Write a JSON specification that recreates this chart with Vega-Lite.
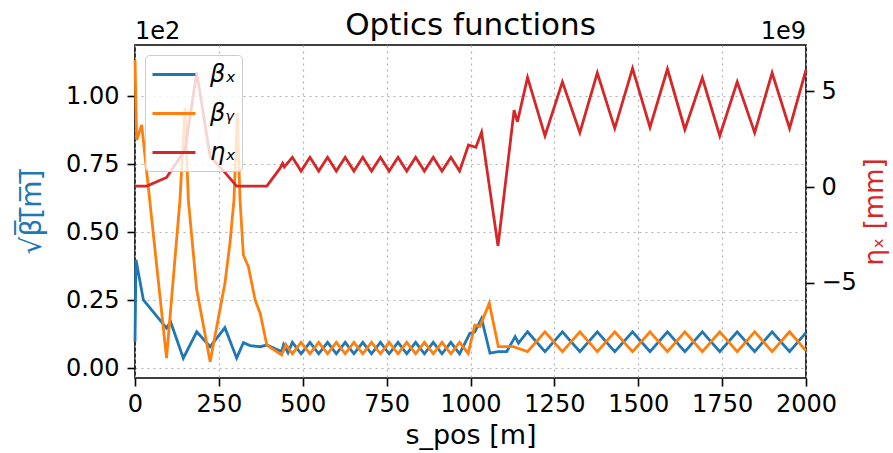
{
  "$schema": "https://vega.github.io/schema/vega-lite/v6.json",
  "width": 671,
  "height": 333,
  "autosize": {"type": "none"},
  "padding": {"left": 135, "top": 45, "right": 87, "bottom": 75},
  "background": "white",
  "title": {"text": "Optics functions", "fontSize": 31, "font": "DejaVu Sans", "fontWeight": "normal", "color": "#000", "baseline": "alphabetic", "offset": 0, "dy": 46},
  "config": {
    "font": "DejaVu Sans",
    "view": {"stroke": "#000", "strokeWidth": 1.6},
    "axis": {
      "labelFont": "DejaVu Sans", "labelFontSize": 24, "labelColor": "#000",
      "titleFont": "DejaVu Sans", "titleFontSize": 27, "titleFontWeight": "normal", "titleColor": "#000",
      "tickColor": "#000", "tickSize": 8, "tickWidth": 1.6, "domain": false,
      "gridColor": "#b0b0b0", "gridDash": [2, 4], "gridWidth": 1.2, "gridOpacity": 1,
      "labelFlush": false, "labelOverlap": false
    },
    "legend": {
      "title": null, "orient": "none", "legendX": 10, "legendY": 10,
      "symbolType": "M-1,0L2.58,0", "symbolSize": 576, "symbolStrokeWidth": 2.8,
      "labelFont": "DejaVu Sans", "labelFontSize": 24, "labelFontStyle": "italic", "labelColor": "#000",
      "labelOffset": 32, "rowPadding": 13, "padding": 6,
      "fillColor": "rgba(255,255,255,0.8)", "strokeColor": "#cccccc", "cornerRadius": 4
    }
  },
  "datasets": {
    "beta": [
      {"s": 0, "series": "βₓ", "value": 9.8}, {"s": 3, "series": "βₓ", "value": 40}, {"s": 25, "series": "βₓ", "value": 25.2},
      {"s": 94, "series": "βₓ", "value": 14.8}, {"s": 106, "series": "βₓ", "value": 17.2}, {"s": 144, "series": "βₓ", "value": 3.8},
      {"s": 184, "series": "βₓ", "value": 13.5}, {"s": 224, "series": "βₓ", "value": 8.0}, {"s": 268, "series": "βₓ", "value": 15.0},
      {"s": 303, "series": "βₓ", "value": 3.8}, {"s": 323, "series": "βₓ", "value": 9.5}, {"s": 343, "series": "βₓ", "value": 8.4},
      {"s": 373, "series": "βₓ", "value": 8.0}, {"s": 393, "series": "βₓ", "value": 8.6}, {"s": 437, "series": "βₓ", "value": 6.2},
      {"s": 443, "series": "βₓ", "value": 8.8}, {"s": 456, "series": "βₓ", "value": 5.8},
      {"s": 469, "series": "βₓ", "value": 9.6}, {"s": 495, "series": "βₓ", "value": 5.4}, {"s": 521.5, "series": "βₓ", "value": 9.6},
      {"s": 547.5, "series": "βₓ", "value": 5.4}, {"s": 574, "series": "βₓ", "value": 9.6}, {"s": 600, "series": "βₓ", "value": 5.4},
      {"s": 626.5, "series": "βₓ", "value": 9.6}, {"s": 652.5, "series": "βₓ", "value": 5.4}, {"s": 679, "series": "βₓ", "value": 9.6},
      {"s": 705, "series": "βₓ", "value": 5.4}, {"s": 731.5, "series": "βₓ", "value": 9.6}, {"s": 757.5, "series": "βₓ", "value": 5.4},
      {"s": 784, "series": "βₓ", "value": 9.6}, {"s": 810, "series": "βₓ", "value": 5.4}, {"s": 836.5, "series": "βₓ", "value": 9.6},
      {"s": 862.5, "series": "βₓ", "value": 5.4}, {"s": 889, "series": "βₓ", "value": 9.6}, {"s": 915, "series": "βₓ", "value": 5.4},
      {"s": 941.5, "series": "βₓ", "value": 9.6}, {"s": 967.5, "series": "βₓ", "value": 5.4},
      {"s": 998, "series": "βₓ", "value": 12.9}, {"s": 1013, "series": "βₓ", "value": 13.5}, {"s": 1033, "series": "βₓ", "value": 18.4},
      {"s": 1058, "series": "βₓ", "value": 5.6}, {"s": 1083, "series": "βₓ", "value": 6.2}, {"s": 1108, "series": "βₓ", "value": 6.2},
      {"s": 1133, "series": "βₓ", "value": 11.7}, {"s": 1143, "series": "βₓ", "value": 9.3},
      {"s": 1170, "series": "βₓ", "value": 13.5}, {"s": 1222, "series": "βₓ", "value": 6.2}, {"s": 1274, "series": "βₓ", "value": 13.5},
      {"s": 1326, "series": "βₓ", "value": 6.2}, {"s": 1378, "series": "βₓ", "value": 13.5}, {"s": 1430, "series": "βₓ", "value": 6.2},
      {"s": 1483, "series": "βₓ", "value": 13.5}, {"s": 1535, "series": "βₓ", "value": 6.2}, {"s": 1587, "series": "βₓ", "value": 13.5},
      {"s": 1639, "series": "βₓ", "value": 6.2}, {"s": 1691, "series": "βₓ", "value": 13.5}, {"s": 1743, "series": "βₓ", "value": 6.2},
      {"s": 1795, "series": "βₓ", "value": 13.5}, {"s": 1847, "series": "βₓ", "value": 6.2}, {"s": 1899, "series": "βₓ", "value": 13.5},
      {"s": 1951, "series": "βₓ", "value": 6.2}, {"s": 2000, "series": "βₓ", "value": 13.2},

      {"s": 0, "series": "βᵧ", "value": 113.4}, {"s": 5, "series": "βᵧ", "value": 84}, {"s": 20, "series": "βᵧ", "value": 89.5},
      {"s": 94, "series": "βᵧ", "value": 3.8}, {"s": 134, "series": "βᵧ", "value": 61.9}, {"s": 149, "series": "βᵧ", "value": 95.7},
      {"s": 159, "series": "βᵧ", "value": 61.9}, {"s": 184, "series": "βᵧ", "value": 28.9}, {"s": 224, "series": "βᵧ", "value": 2.5},
      {"s": 268, "series": "βᵧ", "value": 31.3}, {"s": 283, "series": "βᵧ", "value": 46}, {"s": 295, "series": "βᵧ", "value": 62},
      {"s": 305, "series": "βᵧ", "value": 94}, {"s": 313, "series": "βᵧ", "value": 62}, {"s": 323, "series": "βᵧ", "value": 41.7},
      {"s": 338, "series": "βᵧ", "value": 37.4}, {"s": 358, "series": "βᵧ", "value": 25.2}, {"s": 373, "series": "βᵧ", "value": 20.3},
      {"s": 393, "series": "βᵧ", "value": 8.6}, {"s": 437, "series": "βᵧ", "value": 5.0}, {"s": 450, "series": "βᵧ", "value": 8.8},
      {"s": 469, "series": "βᵧ", "value": 5.4}, {"s": 495, "series": "βᵧ", "value": 9.6}, {"s": 521.5, "series": "βᵧ", "value": 5.4},
      {"s": 547.5, "series": "βᵧ", "value": 9.6}, {"s": 574, "series": "βᵧ", "value": 5.4}, {"s": 600, "series": "βᵧ", "value": 9.6},
      {"s": 626.5, "series": "βᵧ", "value": 5.4}, {"s": 652.5, "series": "βᵧ", "value": 9.6}, {"s": 679, "series": "βᵧ", "value": 5.4},
      {"s": 705, "series": "βᵧ", "value": 9.6}, {"s": 731.5, "series": "βᵧ", "value": 5.4}, {"s": 757.5, "series": "βᵧ", "value": 9.6},
      {"s": 784, "series": "βᵧ", "value": 5.4}, {"s": 810, "series": "βᵧ", "value": 9.6}, {"s": 836.5, "series": "βᵧ", "value": 5.4},
      {"s": 862.5, "series": "βᵧ", "value": 9.6}, {"s": 889, "series": "βᵧ", "value": 5.4}, {"s": 915, "series": "βᵧ", "value": 9.6},
      {"s": 941.5, "series": "βᵧ", "value": 5.4}, {"s": 967.5, "series": "βᵧ", "value": 9.6},
      {"s": 993, "series": "βᵧ", "value": 5.6}, {"s": 1013, "series": "βᵧ", "value": 16}, {"s": 1028, "series": "βᵧ", "value": 15.4},
      {"s": 1056, "series": "βᵧ", "value": 24.0}, {"s": 1083, "series": "βᵧ", "value": 8.0}, {"s": 1128, "series": "βᵧ", "value": 8.0},
      {"s": 1170, "series": "βᵧ", "value": 6.2}, {"s": 1222, "series": "βᵧ", "value": 13.5}, {"s": 1274, "series": "βᵧ", "value": 6.2},
      {"s": 1326, "series": "βᵧ", "value": 13.5}, {"s": 1378, "series": "βᵧ", "value": 6.2}, {"s": 1430, "series": "βᵧ", "value": 13.5},
      {"s": 1483, "series": "βᵧ", "value": 6.2}, {"s": 1535, "series": "βᵧ", "value": 13.5}, {"s": 1587, "series": "βᵧ", "value": 6.2},
      {"s": 1639, "series": "βᵧ", "value": 13.5}, {"s": 1691, "series": "βᵧ", "value": 6.2}, {"s": 1743, "series": "βᵧ", "value": 13.5},
      {"s": 1795, "series": "βᵧ", "value": 6.2}, {"s": 1847, "series": "βᵧ", "value": 13.5}, {"s": 1899, "series": "βᵧ", "value": 6.2},
      {"s": 1951, "series": "βᵧ", "value": 13.5}, {"s": 2000, "series": "βᵧ", "value": 6.5}
    ],
    "eta": [
      {"s": 0, "series": "ηₓ", "value": 0.05e9}, {"s": 35, "series": "ηₓ", "value": 0.05e9}, {"s": 94, "series": "ηₓ", "value": 0.5e9},
      {"s": 149, "series": "ηₓ", "value": 1.93e9}, {"s": 184, "series": "ηₓ", "value": 5.97e9}, {"s": 224, "series": "ηₓ", "value": 1.58e9},
      {"s": 253, "series": "ηₓ", "value": 1.06e9}, {"s": 303, "series": "ηₓ", "value": 0.05e9}, {"s": 393, "series": "ηₓ", "value": 0.05e9},
      {"s": 432, "series": "ηₓ", "value": 0.97e9}, {"s": 440, "series": "ηₓ", "value": 1.23e9}, {"s": 445, "series": "ηₓ", "value": 1.05e9},
      {"s": 469, "series": "ηₓ", "value": 1.55e9}, {"s": 495, "series": "ηₓ", "value": 0.83e9}, {"s": 521.5, "series": "ηₓ", "value": 1.55e9},
      {"s": 547.5, "series": "ηₓ", "value": 0.83e9}, {"s": 574, "series": "ηₓ", "value": 1.55e9}, {"s": 600, "series": "ηₓ", "value": 0.83e9},
      {"s": 626.5, "series": "ηₓ", "value": 1.55e9}, {"s": 652.5, "series": "ηₓ", "value": 0.83e9}, {"s": 679, "series": "ηₓ", "value": 1.55e9},
      {"s": 705, "series": "ηₓ", "value": 0.83e9}, {"s": 731.5, "series": "ηₓ", "value": 1.55e9}, {"s": 757.5, "series": "ηₓ", "value": 0.83e9},
      {"s": 784, "series": "ηₓ", "value": 1.55e9}, {"s": 810, "series": "ηₓ", "value": 0.83e9}, {"s": 836.5, "series": "ηₓ", "value": 1.55e9},
      {"s": 862.5, "series": "ηₓ", "value": 0.83e9}, {"s": 889, "series": "ηₓ", "value": 1.55e9}, {"s": 915, "series": "ηₓ", "value": 0.83e9},
      {"s": 941.5, "series": "ηₓ", "value": 1.55e9}, {"s": 967.5, "series": "ηₓ", "value": 0.83e9},
      {"s": 994, "series": "ηₓ", "value": 2.19e9}, {"s": 1016, "series": "ηₓ", "value": 2.07e9}, {"s": 1033, "series": "ηₓ", "value": 2.85e9},
      {"s": 1082, "series": "ηₓ", "value": -3.07e9}, {"s": 1130, "series": "ηₓ", "value": 4.01e9}, {"s": 1140, "series": "ηₓ", "value": 3.40e9},
      {"s": 1170, "series": "ηₓ", "value": 5.71e9}, {"s": 1222, "series": "ηₓ", "value": 2.67e9}, {"s": 1274, "series": "ηₓ", "value": 5.48e9},
      {"s": 1326, "series": "ηₓ", "value": 2.83e9}, {"s": 1378, "series": "ηₓ", "value": 5.95e9}, {"s": 1430, "series": "ηₓ", "value": 3.06e9},
      {"s": 1483, "series": "ηₓ", "value": 6.18e9}, {"s": 1535, "series": "ηₓ", "value": 3.11e9}, {"s": 1587, "series": "ηₓ", "value": 6.15e9},
      {"s": 1639, "series": "ηₓ", "value": 3.0e9}, {"s": 1691, "series": "ηₓ", "value": 5.69e9}, {"s": 1743, "series": "ηₓ", "value": 2.67e9},
      {"s": 1795, "series": "ηₓ", "value": 5.48e9}, {"s": 1847, "series": "ηₓ", "value": 2.83e9}, {"s": 1899, "series": "ηₓ", "value": 5.95e9},
      {"s": 1951, "series": "ηₓ", "value": 3.06e9}, {"s": 2000, "series": "ηₓ", "value": 6.1e9}
    ]
  },
  "layer": [
    {
      "layer": [
        {
          "data": {"name": "beta"},
          "mark": {"type": "line", "strokeWidth": 2.8},
          "encoding": {
            "x": {
              "field": "s", "type": "quantitative",
              "scale": {"domain": [0, 2000], "nice": false, "zero": false},
              "axis": {"values": [0, 250, 500, 750, 1000, 1250, 1500, 1750, 2000], "format": "d", "title": "s_pos [m]", "labelPadding": 6, "titlePadding": 6, "grid": true}
            },
            "y": {
              "field": "value", "type": "quantitative",
              "scale": {"domain": [-3.5, 118.9], "nice": false, "zero": false},
              "axis": {"values": [0, 25, 50, 75, 100], "labelExpr": "format(datum.value / 100, '.2f')", "title": "√β̅[̅m̅]̅", "titleColor": "#1f77b4", "titleFontSize": 28, "grid": true, "labelPadding": 8, "titlePadding": 19}
            },
            "color": {
              "field": "series", "type": "nominal",
              "scale": {"domain": ["βₓ", "βᵧ", "ηₓ"], "range": ["#1f77b4", "#ff7f0e", "#d62728"]}
            }
          }
        },
        {
          "data": {"values": [{"s": 0, "label": "1e2"}]},
          "mark": {"type": "text", "align": "left", "baseline": "alphabetic", "dy": -6, "fontSize": 24, "font": "DejaVu Sans", "color": "#000"},
          "encoding": {
            "x": {"field": "s", "type": "quantitative"},
            "y": {"datum": 118.9, "type": "quantitative"},
            "text": {"field": "label"}
          }
        },
        {
          "data": {"values": [{"s": 2000, "label": "1e9"}]},
          "mark": {"type": "text", "align": "right", "baseline": "alphabetic", "dy": -6, "fontSize": 24, "font": "DejaVu Sans", "color": "#000"},
          "encoding": {
            "x": {"field": "s", "type": "quantitative"},
            "y": {"datum": 118.9, "type": "quantitative"},
            "text": {"field": "label"}
          }
        }
      ]
    },
    {
      "data": {"name": "eta"},
      "mark": {"type": "line", "strokeWidth": 2.8},
      "encoding": {
        "x": {"field": "s", "type": "quantitative"},
        "y": {
          "field": "value", "type": "quantitative",
          "scale": {"domain": [-9.95e9, 7.4e9], "nice": false, "zero": false},
          "axis": {"orient": "right", "values": [-5e9, 0, 5e9], "labelExpr": "format(datum.value / 1e9, 'd')", "title": "ηₓ [mm]", "titleColor": "#d62728", "titleFontSize": 26, "titleAngle": 270, "titleBaseline": "top", "grid": false, "labelPadding": 7, "titlePadding": 5}
        },
        "color": {"field": "series", "type": "nominal"}
      }
    }
  ],
  "resolve": {"scale": {"y": "independent"}}
}
